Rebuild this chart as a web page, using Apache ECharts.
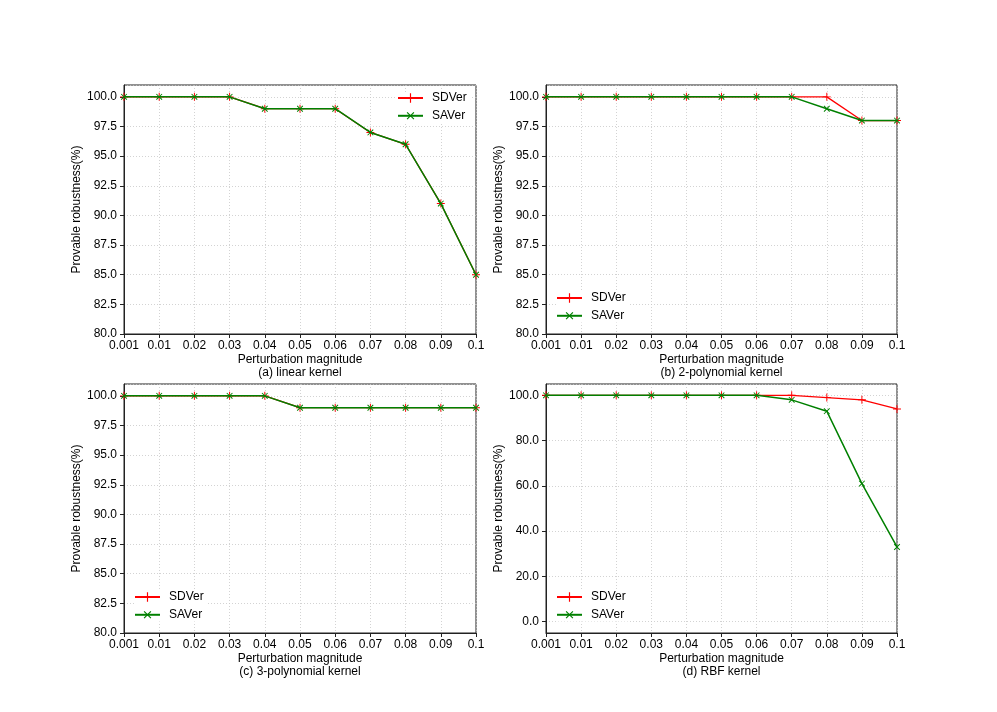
<!DOCTYPE html>
<html>
<head>
<meta charset="utf-8">
<title>Provable robustness</title>
<script src="https://cdn.jsdelivr.net/npm/echarts@6/dist/echarts.min.js"></script>
<style>
  html, body { margin: 0; padding: 0; background: #fff; }
  #main { width: 997px; height: 712px; }
</style>
</head>
<body>
<div id="main"></div>
<script>
// perturbation magnitudes (x categories)
var magnitudes = ['0.001', '0.01', '0.02', '0.03', '0.04', '0.05', '0.06', '0.07', '0.08', '0.09', '0.1'];

// (a) linear kernel
var linearSD = [100, 100, 100, 100, 99, 99, 99, 97, 96, 91, 85];
var linearSA = [100, 100, 100, 100, 99, 99, 99, 97, 96, 91, 85];
// (b) 2-polynomial kernel
var poly2SD = [100, 100, 100, 100, 100, 100, 100, 100, 100, 98, 98];
var poly2SA = [100, 100, 100, 100, 100, 100, 100, 100, 99, 98, 98];
// (c) 3-polynomial kernel
var poly3SD = [100, 100, 100, 100, 100, 99, 99, 99, 99, 99, 99];
var poly3SA = [100, 100, 100, 100, 100, 99, 99, 99, 99, 99, 99];
// (d) RBF kernel
var rbfSD = [100, 100, 100, 100, 100, 100, 100, 100, 99, 98, 94];
var rbfSA = [100, 100, 100, 100, 100, 100, 100, 98, 93, 61, 33];

var panelTitles = ['(a) linear kernel', '(b) 2-polynomial kernel', '(c) 3-polynomial kernel', '(d) RBF kernel'];

var FONT = '"Liberation Sans", Arial, sans-serif';
var PLUS = 'path://M4.4,0H5.6V4.4H10V5.6H5.6V10H4.4V5.6H0V4.4H4.4Z';

var grids = [
    {left: 124, top: 85, width: 352, height: 249},
    {left: 546, top: 85, width: 351, height: 249},
    {left: 124, top: 384, width: 352, height: 249},
    {left: 546, top: 384, width: 351, height: 249}
];
var legendPos = [
    {left: 397, top: 92},
    {left: 556, top: 292},
    {left: 134, top: 591},
    {left: 556, top: 591}
];
var yRanges = [
    {min: 80, max: 101, step: 2.5},
    {min: 80, max: 101, step: 2.5},
    {min: 80, max: 101, step: 2.5},
    {min: -5, max: 105, step: 20}
];
var panelData = [
    [linearSD, linearSA],
    [poly2SD, poly2SA],
    [poly3SD, poly3SA],
    [rbfSD, rbfSA]
];

var gridLine = {show: true, lineStyle: {color: '#c8c8c8', width: 0.8, type: [1, 2]}};

var xAxes = [], yAxes = [], series = [], legends = [];
grids.forEach(function (g, i) {
    g.show = true;
    g.borderColor = '#222';
    g.borderWidth = 1;
    g.containLabel = false;

    xAxes.push({
        gridIndex: i,
        type: 'category',
        boundaryGap: false,
        data: magnitudes,
        name: 'Perturbation magnitude\n' + panelTitles[i],
        nameLocation: 'middle',
        nameGap: 19,
        nameTextStyle: {fontFamily: FONT, fontSize: 12, color: '#000', lineHeight: 13},
        axisLine: {show: true, onZero: false, lineStyle: {color: '#222'}},
        axisTick: {show: true, length: 4, interval: 0, lineStyle: {color: '#222'}},
        axisLabel: {interval: 0, margin: 6, fontFamily: FONT, fontSize: 12, color: '#000'},
        splitLine: gridLine
    });

    var r = yRanges[i];
    var yAxis = {
        gridIndex: i,
        type: 'value',
        min: r.min,
        max: r.max,
        name: 'Provable robustness(%)',
        nameLocation: 'middle',
        nameGap: 38,
        nameTextStyle: {fontFamily: FONT, fontSize: 12, color: '#000'},
        axisLine: {show: true, onZero: false, lineStyle: {color: '#222'}},
        axisTick: {show: true, length: 4, lineStyle: {color: '#222'}},
        axisLabel: {
            margin: 7, fontFamily: FONT, fontSize: 12, color: '#000',
            showMinLabel: r.min % r.step === 0,
            showMaxLabel: false,
            formatter: function (v) {
                return Math.abs(v % r.step) < 1e-9 ? Number(v).toFixed(1) : '';
            }
        },
        splitLine: gridLine
    };
    if (r.min % r.step === 0) {
        yAxis.interval = r.step;
    } else {
        yAxis.splitNumber = 5;
    }
    yAxes.push(yAxis);

    series.push({
        name: 'SDVer', type: 'line', xAxisIndex: i, yAxisIndex: i,
        data: panelData[i][0],
        symbol: PLUS, symbolSize: 8,
        showAllSymbol: true,
        lineStyle: {color: '#ff0000', width: 1.3},
        itemStyle: {color: '#ff0000'},
        z: 2
    });
    series.push({
        name: 'SAVer', type: 'line', xAxisIndex: i, yAxisIndex: i,
        data: panelData[i][1],
        symbol: PLUS, symbolSize: 8, symbolRotate: 45,
        showAllSymbol: true,
        lineStyle: {color: '#008000', width: 1.5},
        itemStyle: {color: '#008000'},
        z: 3
    });

    legends.push({
        left: legendPos[i].left,
        top: legendPos[i].top,
        orient: 'vertical',
        data: ['SDVer', 'SAVer'],
        itemWidth: 25,
        itemHeight: 12,
        itemGap: 5,
        backgroundColor: '#fff',
        padding: [0, 4, 0, 0],
        textStyle: {fontFamily: FONT, fontSize: 12, color: '#000', padding: [0, 0, 0, 4]}
    });
});

var myChart = echarts.init(document.getElementById('main'));
myChart.setOption({
    animation: false,
    backgroundColor: '#fff',
    grid: grids,
    xAxis: xAxes,
    yAxis: yAxes,
    legend: legends,
    series: series
});
</script>
</body>
</html>
